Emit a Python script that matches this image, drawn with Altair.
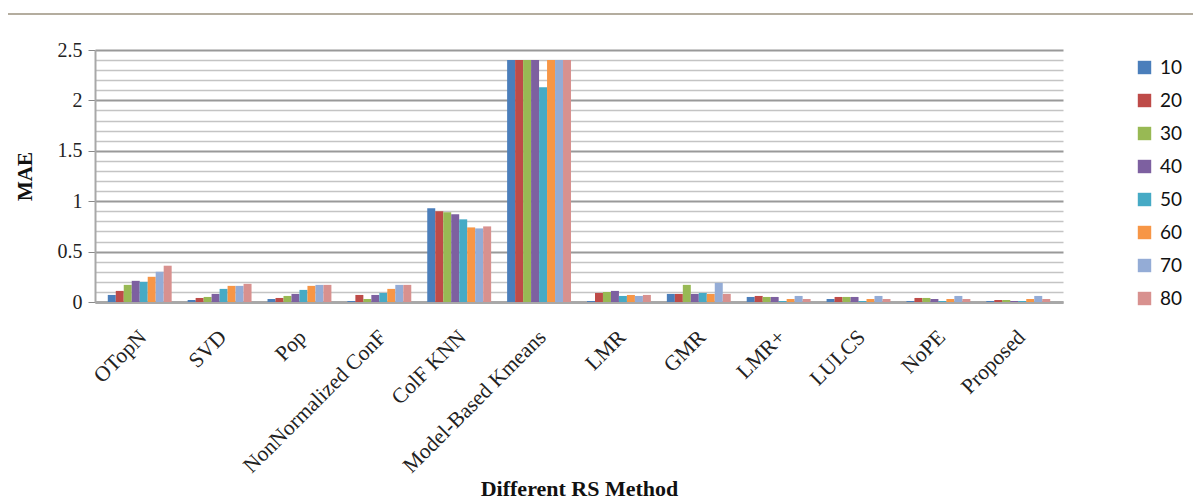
import altair as alt
import pandas as pd

methods = ["OTopN", "SVD", "Pop", "NonNormalized ConF", "ColF KNN",
           "Model-Based Kmeans", "LMR", "GMR", "LMR+", "LULCS", "NoPE", "Proposed"]
series = ["10", "20", "30", "40", "50", "60", "70", "80"]
colors = ["#4A7EBB", "#BE4B48", "#98B954", "#7D60A0", "#46AAC5", "#F79646", "#94ACD6", "#D8918F"]

s10 = [0.07, 0.02, 0.03, 0.01, 0.93, 2.40, 0.01, 0.08, 0.05, 0.03, 0.01, 0.01]
s20 = [0.11, 0.04, 0.04, 0.07, 0.90, 2.40, 0.09, 0.08, 0.06, 0.05, 0.04, 0.02]
s30 = [0.17, 0.05, 0.06, 0.03, 0.89, 2.40, 0.10, 0.17, 0.05, 0.05, 0.04, 0.02]
s40 = [0.21, 0.08, 0.08, 0.07, 0.87, 2.40, 0.11, 0.08, 0.05, 0.05, 0.03, 0.01]
s50 = [0.20, 0.13, 0.12, 0.09, 0.82, 2.13, 0.06, 0.09, 0.01, 0.01, 0.01, 0.01]
s60 = [0.25, 0.16, 0.16, 0.13, 0.74, 2.40, 0.07, 0.08, 0.03, 0.03, 0.03, 0.03]
s70 = [0.30, 0.16, 0.17, 0.17, 0.73, 2.40, 0.06, 0.19, 0.06, 0.06, 0.06, 0.06]
s80 = [0.36, 0.18, 0.17, 0.17, 0.75, 2.40, 0.07, 0.08, 0.03, 0.03, 0.03, 0.03]
all_series = [s10, s20, s30, s40, s50, s60, s70, s80]

y_ticks = [round(i * 0.1, 1) for i in range(26)]

rows = []
for name, vals in zip(series, all_series):
    for m, v in zip(methods, vals):
        rows.append({"method": m, "series": name, "MAE": v})
df = pd.DataFrame(rows)

major = "abs(datum.value*2 - round(datum.value*2)) < 0.001"

bars = alt.Chart(df).mark_bar(stroke=None).encode(
    x=alt.X("method:N", sort=methods, title="Different RS Method",
            scale=alt.Scale(paddingInner=0.2, paddingOuter=0.16),
            axis=alt.Axis(labelAngle=-45, labelAlign="right", labelBaseline="top",
                          labelFont="Liberation Serif", labelFontSize=21.5, labelLimit=400,
                          labelColor="#222", ticks=False, labelPadding=24, labelOffset=-4,
                          domainColor="#a8a8a8", domainWidth=3,
                          titleFont="Liberation Serif", titleFontSize=22, titleFontWeight="bold",
                          titleColor="#111", titleY=193, titleBaseline="alphabetic")),
    xOffset=alt.XOffset("series:N", sort=series),
    y=alt.Y("MAE:Q", title="MAE",
            scale=alt.Scale(domain=[0, 2.5], nice=False),
            axis=alt.Axis(values=y_ticks, format=".1~f",
                          labelExpr="abs(datum.value*2 - round(datum.value*2)) < 0.001 ? datum.label : ''",
                          labelFont="Liberation Serif", labelFontSize=20, labelColor="#222",
                          labelPadding=6, tickSize=7,
                          tickColor={"condition": {"test": major, "value": "#888"}, "value": "transparent"},
                          gridColor={"condition": {"test": major, "value": "#999"}, "value": "#c4c4c4"},
                          gridWidth={"condition": {"test": major, "value": 2}, "value": 1.5},
                          domainColor="#a8a8a8", domainWidth=2,
                          titleFont="Liberation Serif", titleFontSize=21, titleFontWeight="bold",
                          titleColor="#111", titleX=-60)),
    color=alt.Color("series:N", sort=series,
                    scale=alt.Scale(domain=series, range=colors),
                    legend=alt.Legend(title=None, orient="none", legendX=1040, legendY=8,
                                      symbolType="square", symbolSize=180, symbolStrokeWidth=0,
                                      labelFont="Lato", labelFontSize=19, labelColor="#111",
                                      rowPadding=13, labelOffset=6)),
)

topline = alt.Chart(pd.DataFrame({"v": [0]})).mark_rule(color="#b4ad9f", strokeWidth=2).encode(
    x=alt.value(-92), x2=alt.value(1110), y=alt.value(-36))

chart = alt.layer(bars, topline).properties(
    width=968, height=252,
    padding={"left": 87, "top": 42, "right": 130, "bottom": 199},
    autosize=alt.AutoSizeParams(type="none"),
).configure_view(stroke=None)

chart.save("out.html", embed_options={"renderer": "svg", "actions": False})
